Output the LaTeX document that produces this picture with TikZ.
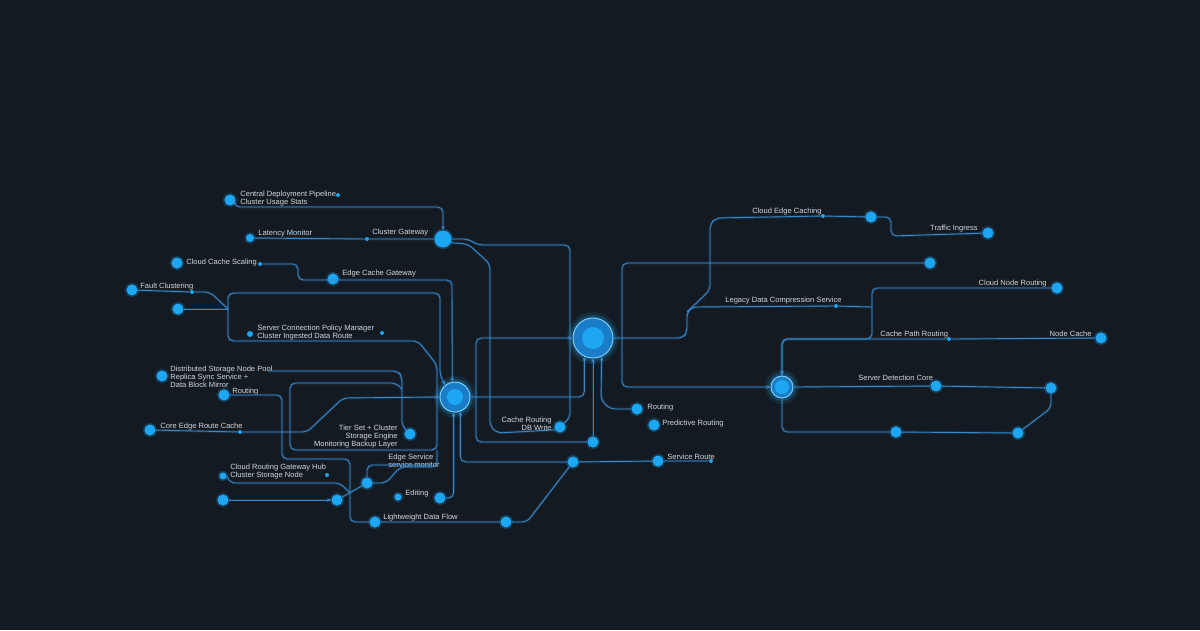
\documentclass[tikz,border=0pt]{standalone}
\usepackage{fontspec}
\setmainfont{Liberation Sans}
\usepackage{xcolor}
\usepackage{tikz}
\usetikzlibrary{arrows.meta}

\definecolor{fond}{HTML}{141A21}
\definecolor{fil}{HTML}{3688CC}
\definecolor{point}{HTML}{1DA6F2}
\definecolor{anneau}{HTML}{1B7CC8}
\definecolor{texte}{HTML}{D4D8DC}

\begin{document}
\begin{tikzpicture}[x=0.02cm, y=-0.02cm,
    lien/.style={draw=fil, line width=0.5pt, rounded corners=3pt,
        preaction={draw=fil, line width=1.5pt, opacity=0.2}},
    fleche/.style={-{Stealth[length=2.4pt,width=2pt]}},
    bille/.style={circle, fill=point, inner sep=0pt, minimum size=0.22cm,
        preaction={draw=point, line width=2pt, opacity=0.25}},
    grain/.style={circle, fill=point, inner sep=0pt, minimum size=0.08cm},
    moyeu/.style={circle, fill=anneau, draw=point!60!white, line width=0.6pt,
        inner sep=0pt, minimum size=#1,
        preaction={draw=point, line width=7pt, opacity=0.12},
        preaction={draw=point, line width=3.5pt, opacity=0.22}},
    coeur/.style={path picture={\fill[point] (path picture bounding box.center) circle (#1);}},
    etiq/.style={text=texte, inner sep=0pt, font=\fontsize{4.3}{4.5}\selectfont, align=left},
    etiqd/.style={etiq, align=right, anchor=north east}
]
    % Fond
    \fill[fond] (0,0) rectangle (1200,630);

    % Noeuds centraux
    \node[moyeu=0.8cm, coeur=0.22cm] (H1) at (593,338) {};
    \node[moyeu=0.6cm, coeur=0.16cm] (H2) at (455,397) {};
    \node[moyeu=0.44cm, coeur=0.14cm] (H3) at (782,387) {};
    \node[bille, minimum size=0.34cm] (H4) at (443,239) {};

    % Points a gauche
    \node[bille] (D1) at (230,200) {};
    \node[etiq, anchor=north west] (L1) at (240,191) {Central Deployment Pipeline\\Cluster Usage Stats};
    \node[grain] (s1) at (338,195) {};
    \node[bille, minimum size=0.16cm] (D2) at (250,238) {};
    \node[etiq, anchor=north west] (L2) at (258,230) {Latency Monitor};
    \node[grain] (s2) at (367,239) {};
    \node[etiq, anchor=north west] (L2b) at (372,229) {Cluster Gateway};
    \node[bille] (D3) at (177,263) {};
    \node[etiq, anchor=north west] (L3) at (186,259) {Cloud Cache Scaling};
    \node[grain] (s3) at (260,264) {};
    \node[bille] (D4) at (333,279) {};
    \node[etiq, anchor=north west] (L4) at (342,270) {Edge Cache Gateway};
    \node[bille] (D5) at (132,290) {};
    \node[etiq, anchor=north west] (L5) at (140,283) {Fault Clustering};
    \node[grain] (s5) at (192,292) {};
    \node[bille] (D6) at (178,309) {};
    \node[grain, minimum size=0.12cm] (s6a) at (250,334) {};
    \node[etiq, anchor=north west] (L6) at (257,325) {Server Connection Policy Manager\\Cluster Ingested Data Route};
    \node[grain] (s6b) at (382,333) {};
    \node[bille] (D7) at (162,376) {};
    \node[etiq, anchor=north west] (L7) at (170,366) {Distributed Storage Node Pool\\Replica Sync Service +\\Data Block Mirror};
    \node[bille] (D7b) at (410,434) {};
    \node[etiqd] (L7b) at (398,425) {Tier Set + Cluster\\Storage Engine\\Monitoring Backup Layer};
    \node[bille] (D8) at (224,395) {};
    \node[etiq, anchor=north west] (L8) at (232,388) {Routing};
    \node[bille] (D9) at (150,430) {};
    \node[etiq, anchor=north west] (L9) at (160,423) {Core Edge Route Cache};
    \node[grain] (s9) at (240,432) {};
    \node[bille, minimum size=0.14cm] (D10) at (223,476) {};
    \node[etiq, anchor=north west] (L10) at (230,464) {Cloud Routing Gateway Hub\\Cluster Storage Node};
    \node[grain] (s10) at (327,475) {};
    \node[bille] (D11) at (223,500) {};
    \node[bille] (D12) at (337,500) {};
    \node[bille] (D13) at (367,483) {};
    \node[etiq, anchor=north west] (L13) at (388,454) {Edge Service\\service monitor};
    \node[bille, minimum size=0.14cm] (D14) at (398,497) {};
    \node[etiq, anchor=north west] (L14) at (405,490) {Editing};
    \node[bille] (D15) at (440,498) {};
    \node[bille] (D16) at (375,522) {};
    \node[etiq, anchor=north west] (L16) at (383,514) {Lightweight Data Flow};
    \node[bille] (D17) at (506,522) {};

    % Points au centre
    \node[bille] (D18) at (573,462) {};
    \node[bille] (D19) at (658,461) {};
    \node[etiq, anchor=north west] (L19) at (667,454) {Service Route};
    \node[grain] (s19) at (711,461) {};
    \node[bille] (D20) at (593,442) {};
    \node[bille] (D21) at (560,427) {};
    \node[etiqd] (L21) at (552,417) {Cache Routing\\DB Write};
    \node[bille] (D22) at (637,409) {};
    \node[etiq, anchor=north west] (L22) at (647,404) {Routing};
    \node[bille] (D23) at (654,425) {};
    \node[etiq, anchor=north west] (L23) at (662,420) {Predictive Routing};

    % Points a droite
    \node[etiq, anchor=north west] (L24) at (752,208) {Cloud Edge Caching};
    \node[grain] (s24) at (823,216) {};
    \node[bille] (D24) at (871,217) {};
    \node[bille] (D25) at (988,233) {};
    \node[etiqd] (L25) at (978,225) {Traffic Ingress};
    \node[bille] (D28) at (930,263) {};
    \node[etiq, anchor=north west] (L26) at (725,297) {Legacy Data Compression Service};
    \node[grain] (s26) at (836,306) {};
    \node[bille] (D26) at (1057,288) {};
    \node[etiqd] (L26b) at (1047,280) {Cloud Node Routing};
    \node[etiq, anchor=north west] (L27a) at (880,331) {Cache Path Routing};
    \node[grain] (s27) at (949,339) {};
    \node[bille] (D27) at (1101,338) {};
    \node[etiqd] (L27) at (1092,331) {Node Cache};
    \node[etiq, anchor=north west] (L29) at (858,375) {Server Detection Core};
    \node[bille] (D29) at (936,386) {};
    \node[bille] (D30) at (1051,388) {};
    \node[bille] (D31) at (1018,433) {};
    \node[bille] (D32) at (896,432) {};

    % Jonctions
    \coordinate (J1) at (228,309);
    \coordinate (J2) at (687,312);
    \coordinate (J7) at (268,371);

    % Trajets a gauche
    \draw[lien, fleche] (D1.-40) |- (443,207) -- (H4.north);
    \draw[lien] (D2) -- (s2) -- (H4.west);
    \draw[lien] (H4.east) -- (468,239) -- (478,245) -- (570,245) -- (570,418) -- (D21.45);
    \draw[lien] (H4.-25) -- (468,244) -- (490,264) -- (490,426) -- (497,433) -- (D21.-150);
    \draw[lien, fleche] (s3) -- (298,264) -- (298,280) -- (452,280) -- (H2.100);
    \draw[lien] (D5) -- (s5) -- (210,292) -- (J1);
    \draw[lien] (D6) -- (J1);
    \draw[lien, fleche] (J1) -- (228,293) -- (440,293) -- (440,375) -- (H2.130);
    \draw[lien] (J1) -- (228,341) -- (418,341) -- (437,365) -- (437,450) -- (290,450) -- (290,383) -- (396,383) -- (402,389);
    \draw[lien] (J7) -- (398,371) -- (402,377) -- (402,426) -- (D7b);
    \draw[lien] (D8) -- (282,395) -- (282,459) -- (350,459) -- (350,522) -- (D16);
    \draw[lien, fleche] (D9) -- (s9) -- (307,432) -- (343,398) -- (H2.west);
    \draw[lien] (D10.east) -- (230,483) -- (340,483) -- (350,493);
    \draw[lien, fleche] (D11) -- (D12);
    \draw[lien] (D12) -- (D13);
    \draw[lien] (D13) -- (386,483) -- (400,467) -- (437,467) -- (437,450);
    \draw[lien] (D13) |- (432,465);
    \draw[lien, fleche] (D15) -| (H2.-95);
    \draw[lien] (D16) -- (D17) -- (527,522) -- (D18);

    % Trajets au centre
    \draw[lien, fleche] (D18) -| (H2.-70);
    \draw[lien] (D18) -- (D19) -- (s19);
    \draw[lien, fleche] (D20) -- (H1.south);
    \draw[lien, fleche] (D20) -- (476,442) -- (476,338) -- (H1.west);
    \draw[lien, fleche] (H2.east) -| (H1.-115);
    \draw[lien, fleche] (D22) -- (610,409) -- (601,400) -- (H1.-65);

    % Trajets a droite
    \draw[lien] (H1.east) -- (683,338) -- (687,332) -- (J2) -- (710,290) -- (710,224) -- (716,218) -- (s24) -- (D24);
    \draw[lien] (D24) -- (891,217) -- (891,236) -- (D25);
    \draw[lien] (J2) -- (692,307) -- (s26) -- (872,307);
    \draw[lien, fleche] (D26) -- (872,288) -- (872,339) -| (H3.north);
    \draw[lien] (H3.north) |- (s27) -- (D27);
    \draw[lien, fleche] (D28) -- (622,263) -- (622,387) -- (H3.west);
    \draw[lien] (H3.east) -- (D29) -- (D30) -- (1051,408) -- (D31);
    \draw[lien] (H3.south) |- (D32) -- (D31);
\end{tikzpicture}
\end{document}
